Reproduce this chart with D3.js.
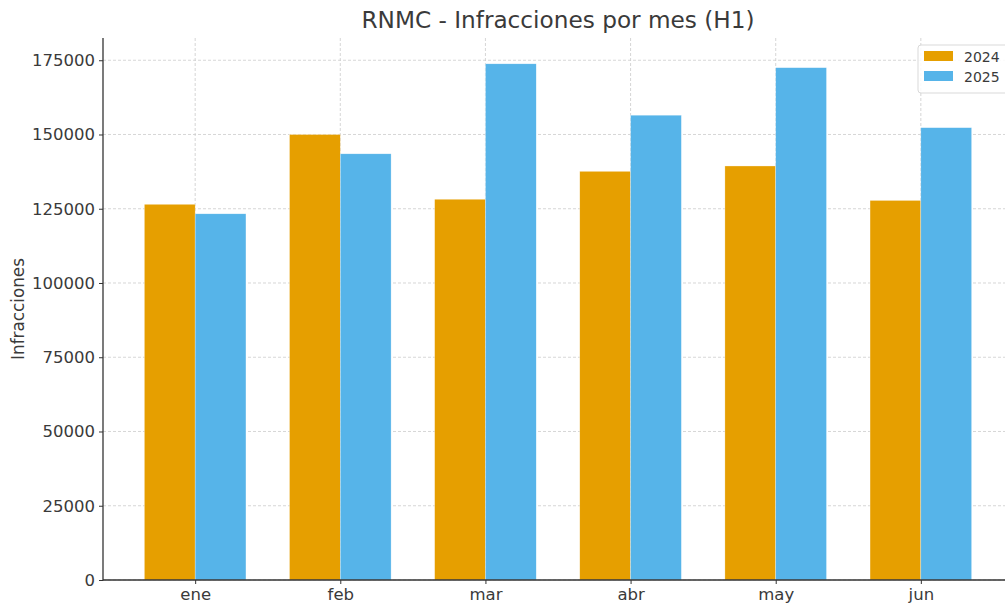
<!DOCTYPE html>
<html><head><meta charset="utf-8">
<script src="https://cdn.jsdelivr.net/npm/d3@7"></script>
<style>body{margin:0;background:#fff;}svg{display:block;font-family:"DejaVu Sans",sans-serif;}</style>
</head><body><div id="chart"></div>
<script>
const categories = ["ene","feb","mar","abr","may","jun"];
const series = ["2024","2025"];
const values2024 = [126500,150000,128200,137600,139400,127800];
const values2025 = [123300,143500,173800,156500,172500,152300];
const yTicks = [0,25000,50000,75000,100000,125000,150000,175000];
const colors = ["#E69F00","#56B4E9"];

(function(){
const W=1005,H=605;
const mLeft=103,mRight=1013,mTop=38,mBottom=580;
const textCol="#3a3a3a";
const svg=d3.select("#chart").append("svg").attr("width",W).attr("height",H);

const n=categories.length, bw=0.35;
const pad=0.05*(n-1+2*bw);
const x=d3.scaleLinear().domain([-bw-pad, n-1+bw+pad]).range([mLeft,mRight]);
const ymax=d3.max(values2025.concat(values2024))*1.05;
const y=d3.scaleLinear().domain([0,ymax]).range([mBottom,mTop]);

// grid
const g=svg.append("g");
g.selectAll("line.hg").data(yTicks).join("line")
 .attr("x1",mLeft).attr("x2",mRight).attr("y1",d=>y(d)).attr("y2",d=>y(d))
 .attr("stroke","#cccccc").attr("stroke-width",0.8).attr("stroke-dasharray","3,2");
g.selectAll("line.vg").data(categories).join("line")
 .attr("y1",mTop).attr("y2",mBottom).attr("x1",(d,i)=>x(i)).attr("x2",(d,i)=>x(i))
 .attr("stroke","#cccccc").attr("stroke-width",0.8).attr("stroke-dasharray","3,2");

// bars
const data=[values2024,values2025];
data.forEach((vals,s)=>{
  svg.append("g").selectAll("rect").data(vals).join("rect")
   .attr("x",(d,i)=>x(i+(s===0?-bw:0)))
   .attr("width",x(bw)-x(0))
   .attr("y",d=>y(d)).attr("height",d=>mBottom-y(d))
   .attr("fill",colors[s]).attr("stroke","#ffffff").attr("stroke-width",0.5).attr("stroke-opacity",0.6);
});

// axes
const yAxis=d3.axisLeft(y).tickValues(yTicks).tickFormat(d3.format("d")).tickSize(4).tickPadding(4);
const ya=svg.append("g").attr("transform",`translate(${mLeft},0)`).call(yAxis);
const xAxis=d3.axisBottom(x).tickValues(d3.range(n)).tickFormat(i=>categories[i]).tickSize(4).tickPadding(4);
const xa=svg.append("g").attr("transform",`translate(0,${mBottom})`).call(xAxis);
[ya,xa].forEach(a=>{
  a.select(".domain").remove();
  a.selectAll(".tick line").attr("stroke","#333").attr("stroke-width",1);
  a.selectAll(".tick text").attr("fill",textCol).style("font-size","16.5px").style("font-family","DejaVu Sans");
});
svg.append("line").attr("x1",mLeft).attr("x2",mLeft).attr("y1",mTop).attr("y2",mBottom+0.5).attr("stroke","#333").attr("stroke-width",1.3);
svg.append("line").attr("x1",mLeft).attr("x2",mRight).attr("y1",mBottom).attr("y2",mBottom).attr("stroke","#333").attr("stroke-width",1.3);

// title
svg.append("text").attr("x",(mLeft+mRight)/2).attr("y",28).attr("text-anchor","middle")
 .attr("fill",textCol).style("font-size","23.2px").text("RNMC - Infracciones por mes (H1)");
// y label
svg.append("text").attr("transform",`translate(24,${(mTop+mBottom)/2}) rotate(-90)`).attr("text-anchor","middle")
 .attr("fill",textCol).style("font-size","16.8px").text("Infracciones");

// legend
const lg=svg.append("g").attr("transform","translate(918,45)");
lg.append("rect").attr("x",0).attr("y",0).attr("width",110).attr("height",48).attr("rx",3)
 .attr("fill","#fff").attr("fill-opacity",0.85).attr("stroke","#d9d9d9");
series.forEach((s,i)=>{
  lg.append("rect").attr("x",6).attr("y",6+i*20).attr("width",29).attr("height",10).attr("fill",colors[i]);
  lg.append("text").attr("x",46).attr("y",16.5+i*20).attr("fill",textCol).style("font-size","14px").text(s);
});
})();
</script></body></html>
